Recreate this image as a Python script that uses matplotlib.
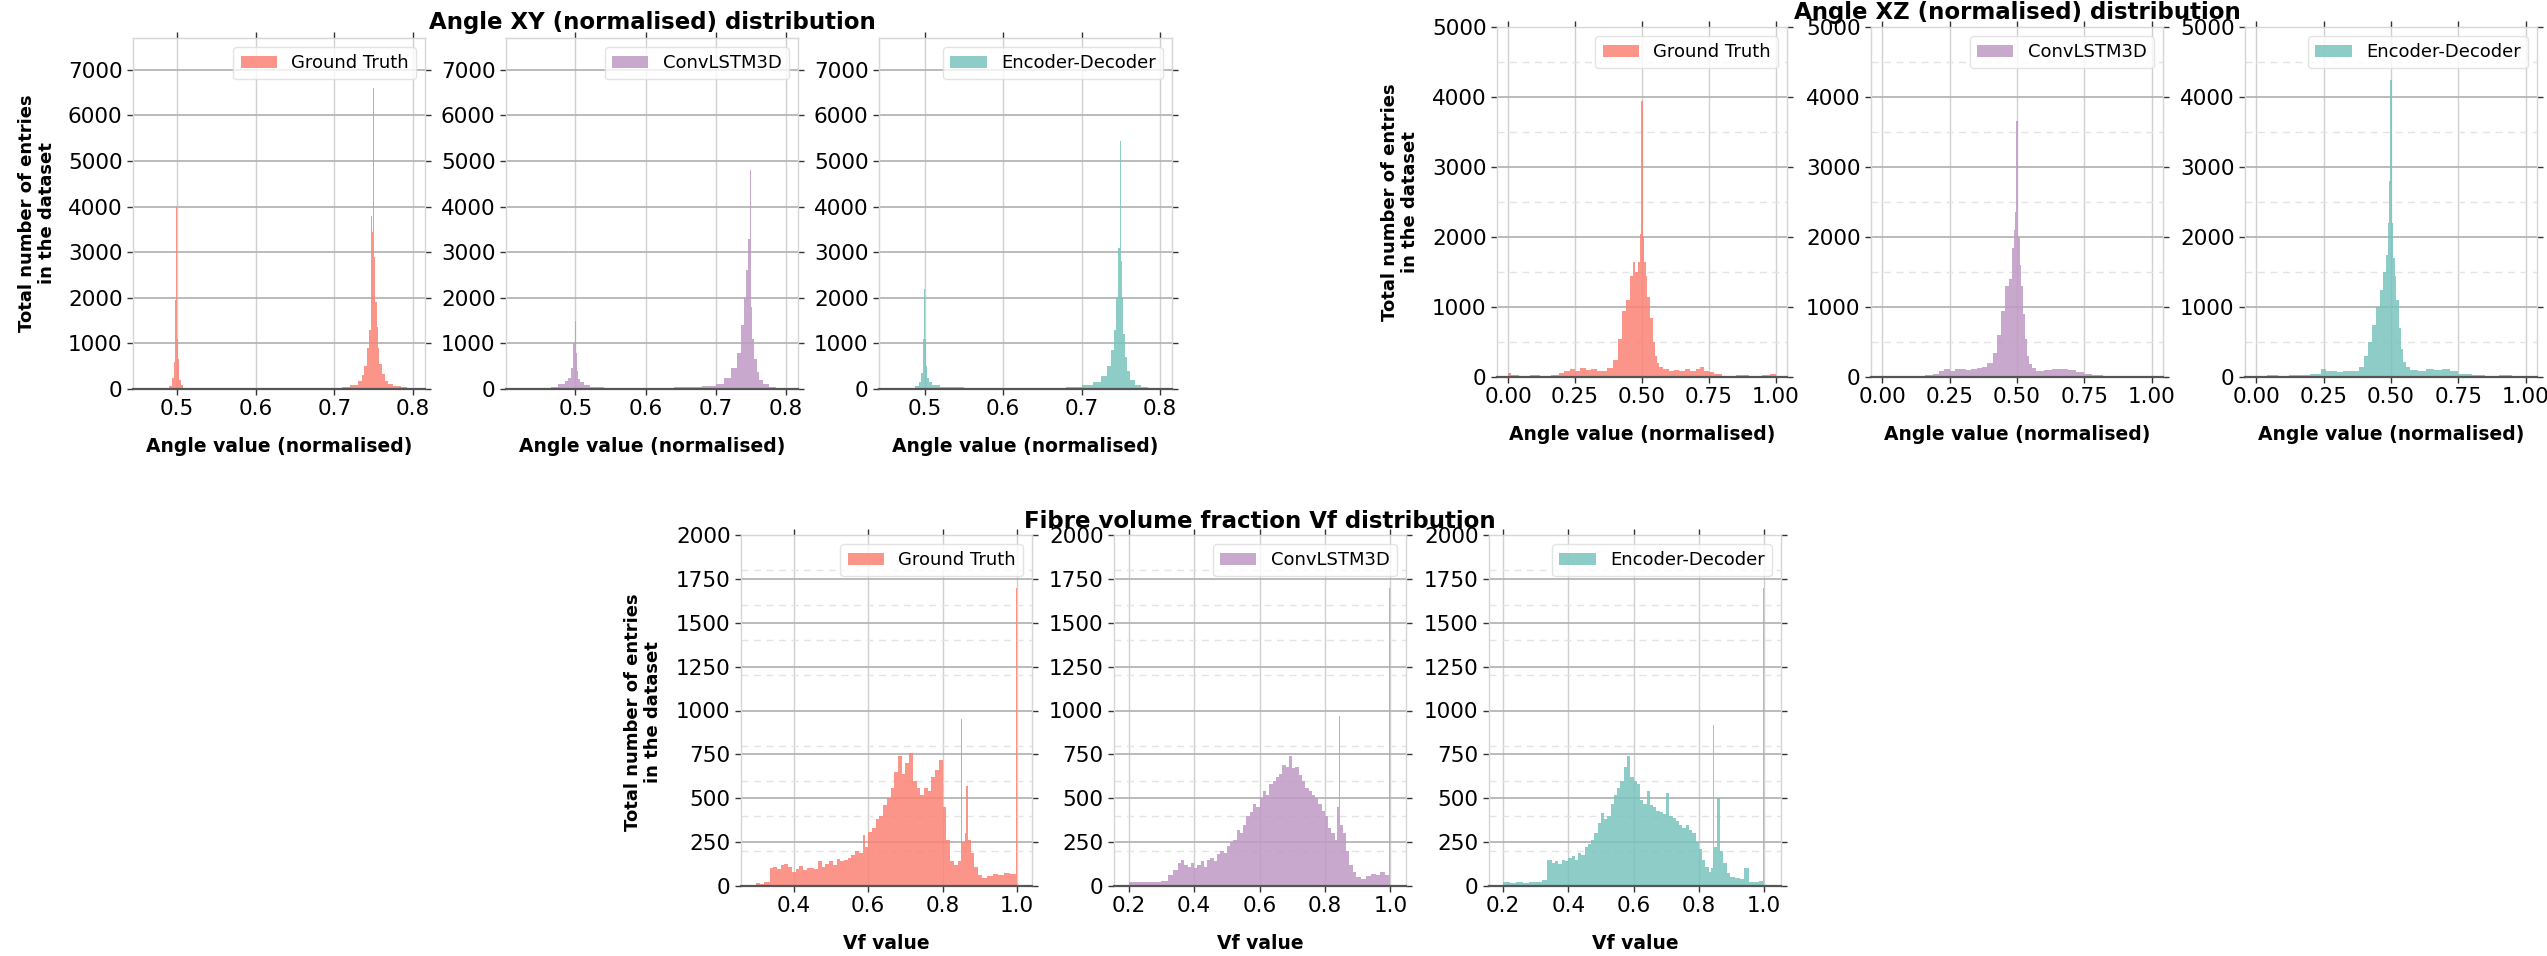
import numpy as np
import matplotlib.pyplot as plt
from matplotlib.ticker import MultipleLocator

# ---------------- data (histogram bin edges / counts) ----------------
series_labels = ["Ground Truth", "ConvLSTM3D", "Encoder-Decoder"]

# Angle XY (normalised)
xy_gt_edges = [0.485, 0.490, 0.494, 0.496, 0.4975, 0.4992, 0.5000, 0.5015, 0.503, 0.505,
               0.508, 0.512, 0.700, 0.710, 0.720, 0.730, 0.735, 0.738, 0.741, 0.744,
               0.7465, 0.748, 0.7492, 0.7499, 0.7507, 0.752, 0.7535, 0.755, 0.757, 0.760,
               0.764, 0.768, 0.775, 0.785, 0.792, 0.798]
xy_gt_counts = [20, 60, 250, 600, 1950, 4000, 1100, 650, 200, 80,
                30, 4, 20, 50, 90, 180, 300, 500, 900, 1300,
                3800, 3450, 6600, 5250, 2900, 1900, 1350, 900, 550, 320,
                180, 100, 60, 40, 10]

xy_conv_edges = [0.450, 0.465, 0.475, 0.485, 0.490, 0.494, 0.497, 0.4988, 0.4999, 0.5006,
                 0.502, 0.504, 0.507, 0.512, 0.520, 0.540, 0.580, 0.640, 0.680, 0.700,
                 0.712, 0.722, 0.730, 0.736, 0.740, 0.743, 0.746, 0.7480, 0.7496, 0.7505,
                 0.752, 0.755, 0.758, 0.762, 0.767, 0.775, 0.785, 0.795]
xy_conv_counts = [20, 50, 100, 170, 250, 450, 1000, 2200, 1500, 800,
                  400, 230, 150, 90, 50, 30, 25, 35, 60, 120,
                  250, 450, 800, 1400, 2000, 2600, 3300, 4800, 2550, 1800,
                  1100, 650, 380, 200, 100, 50, 15]

xy_ed_edges = [0.488, 0.493, 0.496, 0.498, 0.4993, 0.5000, 0.5015, 0.503, 0.506, 0.510,
               0.520, 0.550, 0.620, 0.680, 0.700, 0.715, 0.725, 0.732, 0.737, 0.741,
               0.744, 0.7465, 0.7485, 0.7495, 0.7502, 0.7515, 0.753, 0.755, 0.758, 0.762,
               0.768, 0.776, 0.785, 0.793]
xy_ed_counts = [60, 150, 350, 1100, 2200, 1100, 500, 250, 150, 80,
                40, 20, 25, 40, 80, 150, 280, 500, 850, 1300,
                2000, 3100, 5450, 3850, 2800, 2000, 1200, 700, 400, 200,
                90, 40, 15]

# Angle XZ (normalised)
xz_gt_edges = [0.0, 0.01, 0.04, 0.08, 0.12, 0.16, 0.19, 0.21, 0.23, 0.25,
               0.27, 0.29, 0.31, 0.33, 0.35, 0.37, 0.39, 0.41, 0.425, 0.44,
               0.455, 0.465, 0.475, 0.485, 0.493, 0.498, 0.502, 0.505, 0.509, 0.514,
               0.52, 0.53, 0.54, 0.548, 0.556, 0.565, 0.58, 0.6, 0.62, 0.64,
               0.66, 0.68, 0.70, 0.715, 0.73, 0.75, 0.77, 0.80, 0.85, 0.9,
               0.95, 0.98, 1.0]
xz_gt_counts = [60, 25, 20, 25, 20, 30, 60, 90, 110, 80,
                130, 100, 110, 80, 90, 130, 250, 550, 950, 1100,
                1450, 1650, 1500, 1650, 2050, 3950, 2750, 2000, 1650, 1450,
                1150, 850, 500, 300, 200, 150, 110, 80, 100, 90,
                110, 80, 120, 140, 90, 70, 40, 20, 25, 20,
                25, 40]

xz_conv_edges = [0.0, 0.04, 0.08, 0.12, 0.16, 0.19, 0.21, 0.23, 0.25, 0.27,
                 0.29, 0.31, 0.33, 0.35, 0.37, 0.39, 0.41, 0.425, 0.44, 0.455,
                 0.47, 0.48, 0.488, 0.494, 0.498, 0.502, 0.505, 0.51, 0.516, 0.522,
                 0.53, 0.538, 0.546, 0.555, 0.57, 0.6, 0.63, 0.66, 0.69, 0.72,
                 0.75, 0.78, 0.82, 0.88, 0.94, 1.0]
xz_conv_counts = [15, 12, 15, 20, 30, 50, 80, 110, 90, 110,
                  120, 100, 110, 130, 150, 200, 350, 600, 950, 1300,
                  1400, 1850, 2100, 2350, 3650, 2250, 2000, 1600, 1300, 900,
                  550, 300, 180, 130, 90, 100, 110, 120, 100, 70,
                  40, 30, 20, 15, 20]

xz_ed_edges = [0.0, 0.04, 0.08, 0.12, 0.16, 0.2, 0.24, 0.26, 0.28, 0.30,
               0.32, 0.35, 0.38, 0.40, 0.415, 0.43, 0.445, 0.46, 0.47, 0.48,
               0.488, 0.494, 0.498, 0.502, 0.505, 0.509, 0.514, 0.52, 0.528, 0.536,
               0.545, 0.555, 0.57, 0.6, 0.63, 0.66, 0.69, 0.72, 0.75, 0.8,
               0.85, 0.9, 0.95, 1.0]
xz_ed_counts = [20, 25, 20, 25, 30, 50, 110, 80, 90, 70,
                80, 90, 150, 300, 500, 750, 1000, 1250, 1500, 1750,
                2200, 2800, 4250, 3150, 2200, 1700, 1450, 1100, 700, 400,
                220, 140, 100, 90, 110, 100, 120, 80, 40, 25,
                20, 25, 15]

# Fibre volume fraction Vf
vf_gt_edges = [0.29, 0.30, 0.31, 0.32, 0.335, 0.345, 0.355, 0.365, 0.375, 0.385,
               0.395, 0.405, 0.415, 0.425, 0.435, 0.445, 0.455, 0.465, 0.475, 0.485,
               0.495, 0.505, 0.515, 0.525, 0.535, 0.545, 0.555, 0.565, 0.575, 0.585,
               0.592, 0.6, 0.61, 0.62, 0.63, 0.64, 0.65, 0.66, 0.67, 0.68,
               0.69, 0.70, 0.71, 0.72, 0.73, 0.74, 0.75, 0.76, 0.77, 0.78,
               0.79, 0.80, 0.81, 0.82, 0.83, 0.84, 0.848, 0.852, 0.86, 0.863,
               0.867, 0.875, 0.885, 0.895, 0.905, 0.92, 0.935, 0.95, 0.965, 0.98,
               0.996, 1.0]
vf_gt_counts = [8, 15, 10, 20, 100, 110, 95, 120, 125, 110,
                80, 95, 115, 90, 100, 105, 95, 140, 110, 125,
                140, 120, 155, 140, 150, 160, 175, 200, 190, 290,
                220, 310, 330, 380, 400, 460, 500, 560, 650, 740,
                640, 700, 760, 600, 560, 520, 560, 540, 620, 660,
                720, 450, 260, 140, 120, 140, 950, 250, 300, 570,
                260, 190, 110, 60, 45, 55, 70, 60, 75, 70,
                1700]

vf_pred_edges = ([0.2, 0.22, 0.24, 0.26, 0.28, 0.30, 0.32, 0.335, 0.35]
                 + list(np.round(np.arange(0.36, 0.835, 0.01), 2))
                 + [0.838, 0.843, 0.847, 0.855, 0.865, 0.875, 0.885, 0.895, 0.91,
                    0.925, 0.94, 0.955, 0.97, 0.985, 0.997, 1.0])
vf_conv_counts = [25, 20, 25, 20, 25, 30, 60, 90, 130,
                  150, 120, 110, 130, 100, 120, 140, 110, 150, 160,
                  140, 180, 200, 190, 230, 250, 260, 320, 300, 350,
                  400, 420, 470, 450, 500, 540, 520, 580, 600, 620,
                  640, 690, 680, 740, 670, 680, 630, 600, 560, 540,
                  520, 500, 470, 430, 400, 330, 300,
                  260, 450, 970, 350, 300, 200, 120, 80, 50,
                  40, 55, 70, 60, 80, 60, 1700]
vf_ed_counts = [20, 15, 20, 15, 20, 25, 35, 150, 130,
                140, 125, 150, 145, 160, 170, 150, 190, 175, 220,
                240, 260, 300, 360, 415, 380, 400, 470, 520, 560,
                600, 680, 740, 620, 600, 580, 490, 470, 540, 460,
                450, 430, 420, 410, 530, 400, 390, 370, 350, 330,
                350, 320, 300, 250, 210, 150, 110,
                80, 100, 920, 220, 500, 200, 130, 75, 50,
                45, 40, 100, 25, 20, 30, 1700]

colors = ["#FB8375", "#C099C5", "#79C3BE"]

W, H = 2547, 956


def rect(left, top, right, bottom):
    return [left / W, 1 - bottom / H, (right - left) / W, (bottom - top) / H]


def draw_panel(fig, box, edges, counts, color, label, xlim, xticks, ymax, ymajor, yminor, xlabel):
    ax = fig.add_axes(rect(*box))
    ax.stairs(counts, edges, fill=True, color=color, alpha=0.85, label=label, zorder=2)
    ax.set_xlim(*xlim)
    ax.set_ylim(0, ymax)
    ax.set_xticks(xticks)
    ax.yaxis.set_major_locator(MultipleLocator(ymajor))
    if yminor:
        ax.yaxis.set_minor_locator(MultipleLocator(yminor))
        ax.grid(axis="y", which="minor", color="#e4e4e4", lw=1.0, ls=(0, (5, 4)), zorder=0)
    ax.set_axisbelow(True)
    ax.grid(axis="y", which="major", color="#b5b5b5", lw=1.3, zorder=0)
    ax.grid(axis="x", which="major", color="#d0d0d0", lw=1.0, zorder=0)
    for side in ["left", "right", "top"]:
        ax.spines[side].set_color("#d6d6d6")
        ax.spines[side].set_linewidth(1.0)
    ax.spines["bottom"].set_color("#555555")
    ax.spines["bottom"].set_linewidth(1.6)
    ax.tick_params(which="major", direction="out", length=4, width=1, color="#333333",
                   top=True, right=True, labelsize=15.5)
    ax.tick_params(which="minor", length=0, left=False, right=False)
    ax.set_xlabel(xlabel, fontsize=13.5, fontweight="bold", labelpad=13)
    ax.legend(loc="upper right", fontsize=13, framealpha=0.8, edgecolor="#dddddd")
    return ax


fig = plt.figure(figsize=(W / 100, H / 100), dpi=100)

# Angle XY group
xy_boxes = [(133, 38, 425, 389), (506, 38, 798, 389), (879, 38, 1172, 389)]
xy_xlims = [(0.4446, 0.815), (0.401, 0.817), (0.442, 0.815)]
xy_data = [(xy_gt_edges, xy_gt_counts), (xy_conv_edges, xy_conv_counts), (xy_ed_edges, xy_ed_counts)]
for i in range(3):
    draw_panel(fig, xy_boxes[i], xy_data[i][0], xy_data[i][1], colors[i], series_labels[i],
               xy_xlims[i], [0.5, 0.6, 0.7, 0.8], 7700, 1000, None, "Angle value (normalised)")

# Angle XZ group
xz_boxes = [(1497, 27, 1787, 377), (1871, 27, 2163, 377), (2245, 27, 2537, 377)]
xz_data = [(xz_gt_edges, xz_gt_counts), (xz_conv_edges, xz_conv_counts), (xz_ed_edges, xz_ed_counts)]
for i in range(3):
    draw_panel(fig, xz_boxes[i], xz_data[i][0], xz_data[i][1], colors[i], series_labels[i],
               (-0.042, 1.042), [0.0, 0.25, 0.5, 0.75, 1.0], 5000, 1000, 500,
               "Angle value (normalised)")

# Vf group
vf_boxes = [(741, 535, 1032, 886), (1114, 535, 1406, 886), (1489, 535, 1781, 886)]
vf_xlims = [(0.2584, 1.04), (0.155, 1.048), (0.157, 1.052)]
vf_xticks = [[0.4, 0.6, 0.8, 1.0], [0.2, 0.4, 0.6, 0.8, 1.0], [0.2, 0.4, 0.6, 0.8, 1.0]]
vf_data = [(vf_gt_edges, vf_gt_counts), (vf_pred_edges, vf_conv_counts), (vf_pred_edges, vf_ed_counts)]
for i in range(3):
    draw_panel(fig, vf_boxes[i], vf_data[i][0], vf_data[i][1], colors[i], series_labels[i],
               vf_xlims[i], vf_xticks[i], 2000, 250, 200, "Vf value")

# group titles and shared y labels
fig.text(652 / W, 1 - 23 / H, "Angle XY (normalised) distribution", ha="center", va="center",
         fontsize=16.5, fontweight="bold")
fig.text(2017 / W, 1 - 12 / H, "Angle XZ (normalised) distribution", ha="center", va="center",
         fontsize=16.5, fontweight="bold")
fig.text(1260 / W, 1 - 521 / H, "Fibre volume fraction Vf distribution", ha="center", va="center",
         fontsize=16.5, fontweight="bold")

ylab = "Total number of entries\nin the dataset"
for x, y in [(37, 213), (1400, 202), (643, 712)]:
    fig.text(x / W, 1 - y / H, ylab, rotation=90, ha="center", va="center",
             multialignment="center", fontsize=13, fontweight="bold")

fig.savefig("out.png", dpi=100)
